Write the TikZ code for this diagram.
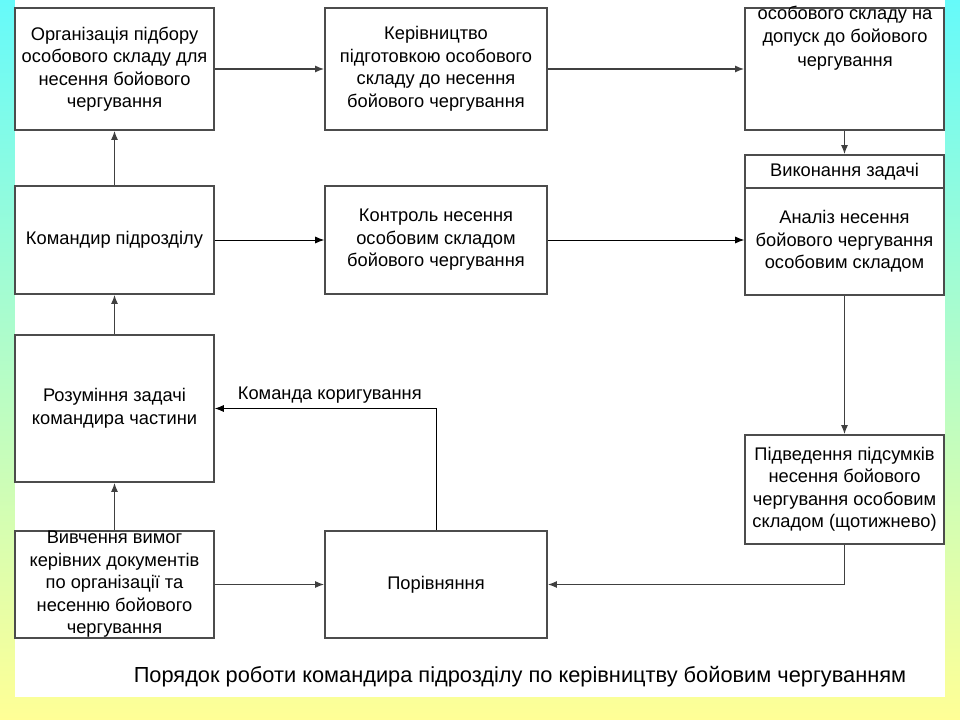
\documentclass[tikz,border=0pt]{standalone}
\usepackage{fontspec}
\setmainfont{Liberation Sans}
\usetikzlibrary{arrows.meta,positioning}
\definecolor{bgtop}{RGB}{102,250,250}
\definecolor{bgbot}{RGB}{255,255,150}
\tikzset{
  box/.style={draw=black!70,line width=1pt,fill=white,inner sep=0pt,align=center,
    font=\fontsize{13}{16}\selectfont},
  link/.style={->,line width=1.1pt,draw=black!75},
  thin link/.style={->,line width=0.6pt,draw=black},
}

\begin{document}
\begin{tikzpicture}[x=0.025cm,y=-0.025cm,>={Latex[length=6.5pt,width=5pt]}]

              % Background
              \shade[top color=bgtop,bottom color=bgbot] (0,0) rectangle (960,720);
              \fill[white] (15,0) rectangle (945,697);
              \useasboundingbox (0,0) rectangle (960,720);

              % Define boxes by coordinates
              \node[box,minimum width=4.975cm,minimum height=3.05cm] (org) at (114.5,69) {Організація підбору\\особового складу для\\несення бойового\\чергування};
              \node[box,minimum width=5.55cm,minimum height=3.05cm] (ker) at (436,69) {Керівництво\\підготовкою особового\\складу до несення\\бойового чергування};
              \node[box,minimum width=4.975cm,minimum height=3.05cm] (dop) at (844.5,69) {};
              \node[align=center,inner sep=0pt,font=\fontsize{13}{16.6}\selectfont] (dopt) at (845,38) {особового складу на\\допуск до бойового\\чергування};
              \node[box,minimum width=4.975cm,minimum height=0.825cm] (vyk) at (844.5,171.5) {Виконання задачі};
              \node[box,minimum width=4.975cm,minimum height=2.675cm] (anal) at (844.5,241.5) {Аналіз несення\\бойового чергування\\особовим складом};
              \node[box,minimum width=4.975cm,minimum height=2.7cm] (kom) at (114.5,240) {Командир підрозділу};
              \node[box,minimum width=5.55cm,minimum height=2.7cm] (kon) at (436,240) {Контроль несення\\особовим складом\\бойового чергування};
              \node[box,minimum width=4.975cm,minimum height=3.675cm] (roz) at (114.5,408.5) {Розуміння задачі\\командира частини};
              \node[box,minimum width=4.975cm,minimum height=2.725cm] (pid) at (844.5,489.5) {Підведення підсумків\\несення бойового\\чергування особовим\\складом (щотижнево)};
              \node[box,minimum width=4.975cm,minimum height=2.675cm] (viv) at (114.5,584.5) {Вивчення вимог\\керівних документів\\по організації та\\несенню бойового\\чергування};
              \node[box,minimum width=5.55cm,minimum height=2.675cm] (por) at (436,584.5) {Порівняння};

              \node[font=\fontsize{15.5}{18}\selectfont] (title) at (520,677) {Порядок роботи командира підрозділу по керівництву бойовим чергуванням};

              % Draw arrows
              \draw[link] (org) -- (ker);
              \draw[link] (ker) -- (dop);
              \draw[link] (dop) -- (vyk);
              \draw[thin link] (kom) -- (kon);
              \draw[thin link] (kon.east) -- (kon.east -| anal.west);
              \draw[link] (anal) -- (pid);
              \draw[link] (pid.south) |- (por.east);
              \draw[link] (viv) -- (por);
              \draw[link] (viv) -- (roz);
              \draw[link] (roz) -- (kom);
              \draw[link] (kom) -- (org);
              \draw[thin link] (por.north) |- (roz.east)
                node[pos=0.74,above,font=\fontsize{13}{15}\selectfont] (cmd) {Команда коригування};
            \end{tikzpicture}
\end{document}
